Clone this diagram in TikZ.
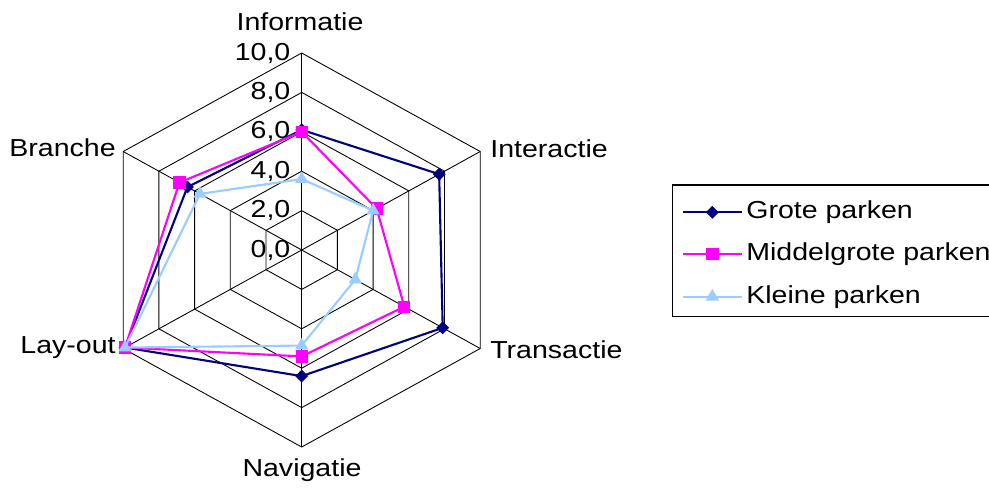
\documentclass[tikz,border=0pt]{standalone}
\usepackage{fontspec}
\setmainfont{Liberation Sans}[FakeStretch=1.16]
\usetikzlibrary{calc,shapes.geometric}
\definecolor{grote}{HTML}{000080}
\definecolor{middel}{HTML}{FF00FF}
\definecolor{kleine}{HTML}{99CCFF}
\tikzset{
  gridline/.style={black, line width=0.5pt},
  series/.style={line width=1.2pt, line join=round},
  mkdiamond/.style={diamond, fill=grote, inner sep=0pt, minimum size=7.5pt},
  mksquare/.style={rectangle, fill=middel, inner sep=0pt, minimum size=7pt},
  mktri/.style={regular polygon, regular polygon sides=3, fill=kleine, inner sep=0pt, minimum size=8.8pt},
  chartfont/.style={font=\fontsize{14}{16}\selectfont, inner sep=0pt},
  ticklabel/.style={chartfont, anchor=east},
}
\begin{document}
\begin{tikzpicture}[x=0.02cm,y=-0.02cm]
\useasboundingbox (0,0) rectangle (989,488);

% centre and the six axis ends (value 10,0)
\coordinate (C)  at (301.7,250);
\coordinate (a0) at (301.7,53);
\coordinate (a1) at (480.2,151.5);
\coordinate (a2) at (480.2,348.5);
\coordinate (a3) at (301.7,447);
\coordinate (a4) at (123.2,348.5);
\coordinate (a5) at (123.2,151.5);

% hexagonal rings and spokes
\foreach \r in {2,4,6,8,10}
  \draw[gridline] ($(C)!\r/10!(a0)$) -- ($(C)!\r/10!(a1)$) -- ($(C)!\r/10!(a2)$)
    -- ($(C)!\r/10!(a3)$) -- ($(C)!\r/10!(a4)$) -- ($(C)!\r/10!(a5)$) -- cycle;
\foreach \k in {0,...,5}
  \draw[gridline] (C) -- (a\k);

% scale labels
\node[ticklabel] (t0)  at ($(C)+(-11,0)$) {0,0};
\node[ticklabel] (t2)  at ($(C)!0.2!(a0)+(-11,0)$) {2,0};
\node[ticklabel] (t4)  at ($(C)!0.4!(a0)+(-11,0)$) {4,0};
\node[ticklabel] (t6)  at ($(C)!0.6!(a0)+(-11,0)$) {6,0};
\node[ticklabel] (t8)  at ($(C)!0.8!(a0)+(-11,0)$) {8,0};
\node[ticklabel] (t10) at ($(a0)+(-11,0)$) {10,0};

% axis names
\node[chartfont] (lInf) at (300,22) {Informatie};
\node[chartfont, anchor=west] (lInt) at (490,149) {Interactie};
\node[chartfont, anchor=west] (lTra) at (490,350) {Transactie};
\node[chartfont] (lNav) at (302,470) {Navigatie};
\node[chartfont, anchor=east] (lLay) at (116,348) {Lay-out};
\node[chartfont, anchor=east] (lBra) at (116,148) {Branche};

% data points
\foreach \k/\v in {0/6.1,1/7.7,2/7.9,3/6.4,4/9.9,5/6.4}
  \coordinate (g\k) at ($(C)!\v/10!(a\k)$);
\foreach \k/\v in {0/6.0,1/4.2,2/5.75,3/5.4,4/9.9,5/6.85}
  \coordinate (m\k) at ($(C)!\v/10!(a\k)$);
\foreach \k/\v in {0/3.6,1/4.0,2/3.0,3/4.85,4/9.9,5/5.7}
  \coordinate (k\k) at ($(C)!\v/10!(a\k)$);

% series: Grote parken
\draw[series, grote] (g0) -- (g1) -- (g2) -- (g3) -- (g4) -- (g5) -- cycle;
\foreach \k in {0,...,5} \node[mkdiamond] (gm\k) at (g\k) {};
% series: Middelgrote parken
\draw[series, middel] (m0) -- (m1) -- (m2) -- (m3) -- (m4) -- (m5) -- cycle;
\foreach \k in {0,...,5} \node[mksquare] (mm\k) at (m\k) {};
% series: Kleine parken
\draw[series, kleine] (k0) -- (k1) -- (k2) -- (k3) -- (k4) -- (k5) -- cycle;
\foreach \k in {0,...,5} \node[mktri] (km\k) at (k\k) {};

% legend
\begin{scope}
  \clip (0,0) rectangle (989,488);
  \draw[line width=0.6pt] (672.7,185) rectangle (1000,316.7);
  \coordinate (l1a) at (683,212.3);  \coordinate (l1b) at (741.7,212.3);
  \coordinate (l2a) at (683,254);    \coordinate (l2b) at (741.7,254);
  \coordinate (l3a) at (683,296.7);  \coordinate (l3b) at (741.7,296.7);
  \draw[series, grote]  (l1a) -- (l1b);
  \node[mkdiamond] (lg1) at ($(l1a)!0.5!(l1b)$) {};
  \draw[series, middel] (l2a) -- (l2b);
  \node[mksquare] (lg2) at ($(l2a)!0.5!(l2b)$) {};
  \draw[series, kleine] (l3a) -- (l3b);
  \node[mktri] (lg3) at ($(l3a)!0.5!(l3b)$) {};
  \node[chartfont, anchor=west] (lt1) at (746,212.3) {Grote parken};
  \node[chartfont, anchor=west] (lt2) at (746,254) {Middelgrote parken};
  \node[chartfont, anchor=west] (lt3) at (746,296.7) {Kleine parken};
\end{scope}
\end{tikzpicture}
\end{document}
